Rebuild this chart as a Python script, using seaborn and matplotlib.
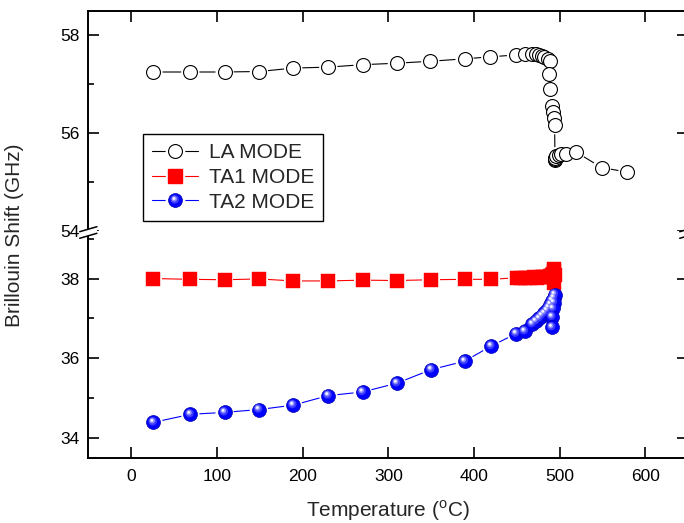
import numpy as np
import pandas as pd
import matplotlib
matplotlib.use("Agg")
import matplotlib.pyplot as plt
import seaborn as sns
from matplotlib.path import Path
from matplotlib.lines import Line2D
from matplotlib.patches import Polygon
from matplotlib.legend_handler import HandlerTuple
from matplotlib.ticker import MultipleLocator

# ---- data: Brillouin shift vs temperature ----
la_temp = [26, 69, 109, 149, 189, 230, 270, 310, 349, 389, 419, 449, 459, 468,
           472, 476, 479, 482, 486, 489, 488, 489, 491, 492, 493, 494, 494.5,
           494, 495, 496, 499, 502, 507, 519, 549, 579]
la_shift = [57.25, 57.25, 57.25, 57.26, 57.33, 57.35, 57.40, 57.43, 57.47, 57.52,
            57.56, 57.60, 57.62, 57.62, 57.61, 57.60, 57.58, 57.56, 57.52, 57.48,
            57.21, 56.91, 56.56, 56.44, 56.30, 56.16, 55.45, 55.47, 55.49, 55.52,
            55.54, 55.56, 55.56, 55.61, 55.29, 55.20]

ta1_temp = [26, 69, 109, 149, 189, 230, 270, 310, 350, 389, 420, 450, 455, 460,
            465, 470, 474, 478, 481, 484, 487, 489, 491, 492, 493, 493, 494, 493]
ta1_shift = [38.00, 37.98, 37.97, 37.99, 37.94, 37.94, 37.96, 37.95, 37.97, 37.98,
             37.98, 38.02, 38.01, 38.02, 38.02, 38.03, 38.02, 38.03, 38.04, 38.04,
             38.05, 38.06, 38.08, 38.12, 38.18, 38.25, 38.10, 37.90]

ta2_temp = [26, 69, 109, 149, 189, 230, 270, 310, 350, 389, 420, 449, 459, 468,
            472, 476, 479, 482, 485, 487, 489, 491, 493, 494, 493, 492, 491, 491]
ta2_shift = [34.40, 34.60, 34.65, 34.72, 34.83, 35.07, 35.16, 35.38, 35.72, 35.93,
             36.31, 36.62, 36.68, 36.86, 36.93, 37.00, 37.07, 37.13, 37.20, 37.27,
             37.35, 37.45, 37.52, 37.60, 37.40, 37.25, 37.04, 36.78]

labels = ["LA MODE", "TA1 MODE", "TA2 MODE"]
x_ticks = [0, 100, 200, 300, 400, 500, 600]

la = pd.DataFrame({"T": la_temp, "f": la_shift})
ta1 = pd.DataFrame({"T": ta1_temp, "f": ta1_shift})
ta2 = pd.DataFrame({"T": ta2_temp, "f": ta2_shift})

sns.set_style("ticks")
plt.rcParams["font.family"] = ["Liberation Sans", "DejaVu Sans"]
plt.rcParams["mathtext.fontset"] = "custom"
plt.rcParams["mathtext.rm"] = "Liberation Sans"


def spot(cx, cy, r):
    """Filled circle marker placed off-centre inside a [-1, 1] box."""
    c = Path.circle(center=(cx, cy), radius=r)
    verts = np.vstack([[[-1, -1], [1, 1]], c.vertices])
    codes = np.concatenate([[Path.MOVETO, Path.MOVETO], c.codes])
    return Path(verts, codes)


# layers that give the blue markers a glossy, sphere-like look
ball_layers = [
    (spot(-0.12, 0.16, 0.62), "#3b3bff"),
    (spot(-0.18, 0.24, 0.40), "#8a8aff"),
    (spot(-0.22, 0.28, 0.22), "#e6e6ff"),
    (spot(-0.23, 0.29, 0.11), "#ffffff"),
]

fig = plt.figure(figsize=(6.84, 5.23), dpi=100)
W, H = 684.0, 523.0
left_px, right_px, top_px, brk_px, bot_px = 88.3, 688.3, 11.0, 230.6, 458.3
ax_top = fig.add_axes([left_px / W, 1 - brk_px / H, (right_px - left_px) / W,
                       (brk_px - top_px) / H])
ax_bot = fig.add_axes([left_px / W, 1 - bot_px / H, (right_px - left_px) / W,
                       (bot_px - brk_px) / H])

MS = 10.0
SQ = 9.4
LW = 0.8


def draw_series(ax, df, color, marker, ms, face, edge, mew):
    sns.lineplot(data=df, x="T", y="f", sort=False, estimator=None, color=color,
                 lw=LW, ax=ax, zorder=2)
    # white halo leaves a small gap between line and marker
    sns.scatterplot(data=df, x="T", y="f", marker=marker, s=(ms + 3.2) ** 2,
                    color="white", edgecolor="none", linewidth=0, ax=ax,
                    zorder=3)
    sns.scatterplot(data=df, x="T", y="f", marker=marker, s=ms ** 2,
                    color=face, edgecolor=edge, linewidth=mew, ax=ax, zorder=4)


draw_series(ax_top, la, "black", "o", MS, "white", "black", 0.8)
draw_series(ax_bot, ta1, "#ff0000", "s", SQ, "#ff0000", "#ff0000", 0.3)
draw_series(ax_bot, ta2, "#0000ff", "o", MS, "#0000ff", "#0000b0", 0.5)
for k, (p, c) in enumerate(ball_layers):
    sns.scatterplot(data=ta2, x="T", y="f", marker=p, s=MS ** 2, color=c,
                    edgecolor="none", linewidth=0, ax=ax_bot, zorder=5 + k)

# ---- axes ----
ax_top.set_xlim(-50, 650)
ax_bot.set_xlim(-50, 650)
ax_top.set_ylim(54, 58.5)
ax_bot.set_ylim(33.5, 39.2)
ax_top.set_yticks([54, 56, 58])
ax_bot.set_yticks([34, 36, 38])
for ax in (ax_top, ax_bot):
    ax.set_xticks(x_ticks)
    ax.yaxis.set_minor_locator(MultipleLocator(1))
    ax.set_xlabel("")
    ax.set_ylabel("")
    for s in ax.spines.values():
        s.set_linewidth(1.4)
        s.set_color("black")
    ax.tick_params(which="both", direction="in", color="black", width=1.2,
                   labelsize=12.5, labelcolor="black")
    ax.tick_params(which="major", length=8)
    ax.tick_params(which="minor", length=4.5, right=False)
    ax.tick_params(axis="y", which="both", left=True, pad=6.5)
    ax.tick_params(axis="y", which="major", right=True)
    ax.set_facecolor("white")

ax_top.spines["bottom"].set_visible(False)
ax_bot.spines["top"].set_visible(False)
ax_top.tick_params(axis="x", bottom=False, top=True, labelbottom=False)
ax_bot.tick_params(axis="x", bottom=True, top=False, pad=7.5)

# ---- break marks on both spines ----
cy = 232.5
for cx in (left_px, right_px):
    up = [(cx - 8.6, cy - 3.3 + 2.5), (cx + 8.6, cy - 3.3 - 2.5)]
    lo = [(cx - 8.6, cy + 3.3 + 2.5), (cx + 8.6, cy + 3.3 - 2.5)]
    poly = [up[0], up[1], lo[1], lo[0]]
    fig.patches.append(Polygon([(x / W, 1 - y / H) for x, y in poly],
                               closed=True, facecolor="white", edgecolor="none",
                               transform=fig.transFigure, zorder=20))
    for seg in (up, lo):
        fig.lines.append(Line2D([p[0] / W for p in seg], [1 - p[1] / H for p in seg],
                                color="black", lw=1.1, transform=fig.transFigure,
                                zorder=21))

# ---- legend ----
h_la = (Line2D([], [], color="black", lw=LW),
        Line2D([], [], ls="none", marker="o", ms=MS + 3.2, mfc="white", mec="white"),
        Line2D([], [], ls="none", marker="o", ms=MS, mfc="white", mec="black", mew=0.8))
h_ta1 = (Line2D([], [], color="#ff0000", lw=LW),
         Line2D([], [], ls="none", marker="s", ms=SQ + 3.2, mfc="white", mec="white"),
         Line2D([], [], ls="none", marker="s", ms=SQ, mfc="#ff0000", mec="#ff0000"))
h_ta2 = [Line2D([], [], color="#0000ff", lw=LW),
         Line2D([], [], ls="none", marker="o", ms=MS + 3.2, mfc="white", mec="white"),
         Line2D([], [], ls="none", marker="o", ms=MS, mfc="#0000ff", mec="#0000b0", mew=0.5)]
for p, c in ball_layers:
    h_ta2.append(Line2D([], [], ls="none", marker=p, ms=MS, mfc=c, mec="none"))
leg = ax_top.legend([h_la, h_ta1, tuple(h_ta2)], labels,
                    handler_map={tuple: HandlerTuple(ndivide=1, pad=0)},
                    loc="upper left", bbox_to_anchor=(0.0912, 0.44),
                    borderaxespad=0, frameon=True, fancybox=False,
                    edgecolor="black", framealpha=1, fontsize=15,
                    handlelength=2.2, handletextpad=0.5, labelspacing=0.27,
                    borderpad=0.45)
leg.get_frame().set_linewidth(1.0)
leg.set_zorder(30)

# ---- axis titles ----
fig.text(388 / W, 1 - 511 / H, "Temperature ($^\\mathregular{o}$C)", ha="center",
         va="center", fontsize=15)
fig.text(15 / W, 1 - 235 / H, "Brillouin Shift (GHz)", ha="center", va="center",
         rotation=90, fontsize=15)

fig.savefig("out.png", dpi=100)
